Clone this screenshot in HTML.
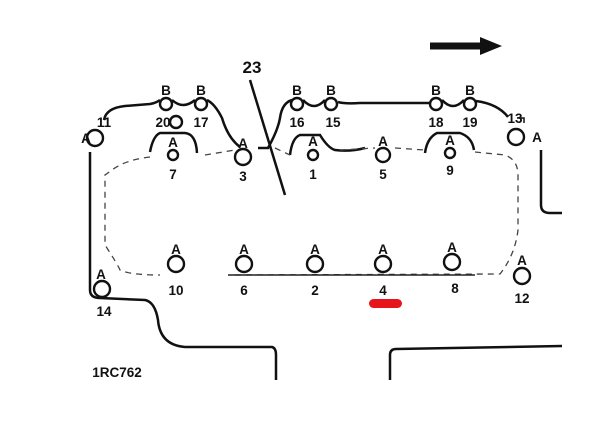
<!DOCTYPE html>
<html><head><style>
html,body{margin:0;padding:0;background:#fff;width:600px;height:421px;overflow:hidden}
svg text{font-family:"Liberation Sans",sans-serif;font-weight:bold;fill:#111;text-anchor:middle}
</style></head><body>
<svg width="600" height="421" viewBox="0 0 600 421" xmlns="http://www.w3.org/2000/svg">
<g fill="none" stroke="#111" stroke-width="2.5">
<line x1="430" y1="46" x2="484" y2="46" stroke-width="7"/>
<line x1="250" y1="80" x2="285" y2="195"/>
<path d="M104 120 Q106 108 125 106 L150 104 Q156 103 160 100 M172 100 Q183 110 195 100 M207 100 Q215 104 222 118 Q228 138 240 147"/>
<path d="M258 148 L268 148 Q278 130 280 118 Q282 103 292 100 M303 100 Q314 112 325 100 M338 102 Q345 104 360 103 L430 103 M442 100 Q453 112 464 100 M476 101 Q498 104 508 117"/>
<path d="M150 152 Q153 136 160 133 L185 133 Q196 134 197 153"/>
<path d="M290 155 Q292 138 300 135 L320 135 Q328 148 335 150 Q350 152 365 148"/>
<path d="M425 153 Q427 138 437 133 L460 133 Q472 137 474 150"/>
<path d="M90 152 L90 290 Q90 298 100 298 L145 300 Q155 302 158 320 Q160 345 185 347 L272 347 Q276 348 276 355 L276 380"/>
<path d="M390 380 L390 355 Q390 349 396 349 L562 346"/>
<path d="M541 150 L541 205 Q541 213 550 213 L562 213"/>
<path d="M517 118 L524 118 L524 123" stroke-width="1.5"/>
</g>
<g fill="none" stroke="#444" stroke-width="1.3" stroke-dasharray="6 5">
<path d="M150 157 Q125 160 112 170 L105 175 L105 245 Q118 265 120 270 Q130 275 160 275 M205 155 L235 150 M275 148 L290 155 M340 150 L375 148 M395 148 L425 150 M475 152 L505 155 Q518 160 518 175 L518 230 Q515 255 500 274 L230 275"/>
</g>
<path d="M228 275 L475 275" stroke="#222" stroke-width="1.5"/>
<g fill="#fff" stroke="#111" stroke-width="2.4">
<circle cx="166" cy="104" r="6"/><circle cx="201" cy="104" r="6"/>
<circle cx="297" cy="104" r="6"/><circle cx="331" cy="104" r="6"/>
<circle cx="436" cy="104" r="6"/><circle cx="470" cy="104" r="6"/>
<circle cx="176" cy="122" r="6"/>
<circle cx="95" cy="138" r="8"/><circle cx="516" cy="137" r="8"/>
<circle cx="173" cy="155" r="5"/><circle cx="243" cy="157" r="8"/>
<circle cx="313" cy="155" r="5"/><circle cx="383" cy="155" r="7"/>
<circle cx="450" cy="153" r="5"/>
<circle cx="176" cy="264" r="8"/><circle cx="244" cy="264" r="8"/>
<circle cx="315" cy="264" r="8"/><circle cx="383" cy="264" r="8"/>
<circle cx="452" cy="262" r="8"/><circle cx="522" cy="276" r="8"/>
<circle cx="102" cy="289" r="8"/>
</g>
<polygon points="480,37 502,46 480,55" fill="#111"/>
<g font-size="13.5">
<text x="166" y="95">B</text><text x="201" y="95">B</text>
<text x="297" y="95">B</text><text x="331" y="95">B</text>
<text x="436" y="95">B</text><text x="470" y="95">B</text>
<text x="163" y="127">20</text><text x="201" y="127">17</text>
<text x="297" y="127">16</text><text x="333" y="127">15</text>
<text x="436" y="127">18</text><text x="470" y="127">19</text>
<text x="104" y="127">11</text><text x="515" y="123">13</text>
<text x="86" y="143">A</text><text x="537" y="142">A</text>
<text x="173" y="147">A</text><text x="243" y="148">A</text>
<text x="313" y="146">A</text><text x="383" y="146">A</text><text x="450" y="145">A</text>
<text x="173" y="179">7</text><text x="243" y="181">3</text>
<text x="313" y="179">1</text><text x="383" y="179">5</text><text x="450" y="175">9</text>
<text x="176" y="254">A</text><text x="244" y="254">A</text><text x="315" y="254">A</text>
<text x="383" y="254">A</text><text x="452" y="252">A</text><text x="522" y="265">A</text>
<text x="101" y="279">A</text>
<text x="176" y="295">10</text><text x="244" y="295">6</text><text x="315" y="295">2</text>
<text x="383" y="295">4</text><text x="455" y="293">8</text><text x="522" y="303">12</text>
<text x="104" y="316">14</text>
<text x="117" y="377" font-weight="normal">1RC762</text>
</g>
<text x="252" y="73" font-size="17">23</text>
<rect x="369" y="299" width="33" height="9" rx="4.5" fill="#e8141c"/>
</svg>
</body></html>
